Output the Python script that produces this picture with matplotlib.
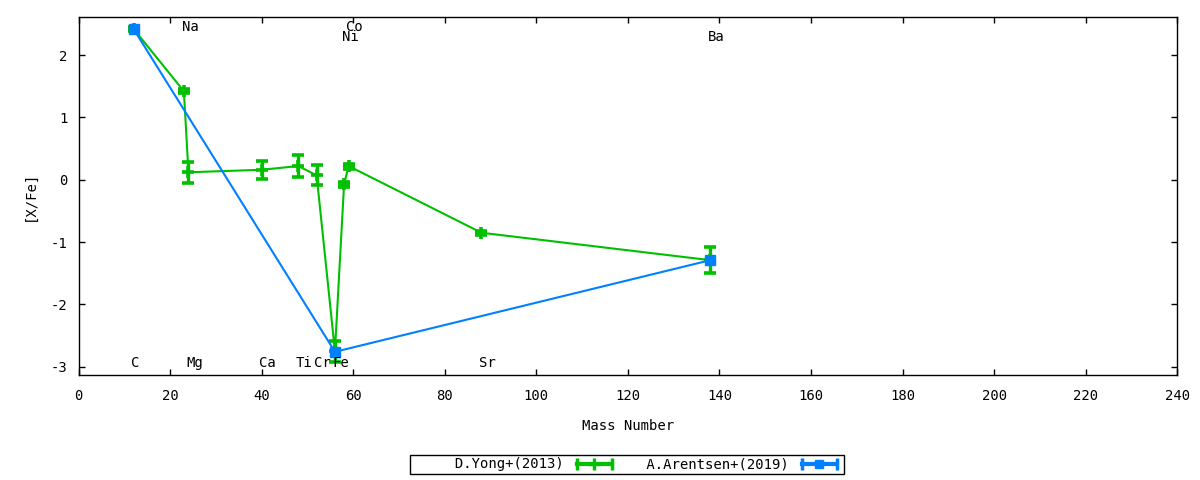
import matplotlib
matplotlib.use("Agg")
import matplotlib.pyplot as plt
from matplotlib.lines import Line2D
from matplotlib.legend_handler import HandlerLine2D, HandlerTuple

plt.rcParams['font.family'] = ['DejaVu Sans Mono']
plt.rcParams['axes.unicode_minus'] = False

# D.Yong+(2013)
yong_elem = ['C', 'Na', 'Mg', 'Ca', 'Ti', 'Cr', 'Fe', 'Ni', 'Co', 'Sr', 'Ba']
yong_mass = [12, 23, 24, 40, 48, 52, 56, 58, 59, 88, 138]
yong_xfe = [2.42, 1.42, 0.12, 0.16, 0.22, 0.07, -2.75, -0.07, 0.22, -0.85, -1.29]
yong_err = [0.03, 0.03, 0.17, 0.14, 0.18, 0.16, 0.17, 0.04, 0.04, 0.03, 0.21]

# A.Arentsen+(2019)
aren_mass = [12, 56, 138]
aren_xfe = [2.42, -2.76, -1.29]

# element labels (name, mass, label height)
lab_elem = ['C', 'Na', 'Mg', 'Ca', 'Ti', 'Cr', 'Fe', 'Co', 'Ni', 'Sr', 'Ba']
lab_mass = [12, 23, 24, 40, 48, 52, 56, 59, 58, 88, 138]
lab_y = [-2.94, 2.45, -2.94, -2.94, -2.94, -2.94, -2.94, 2.45, 2.29, -2.94, 2.29]

series_names = ['D.Yong+(2013)', 'A.Arentsen+(2019)']

green = '#00c000'
blue = '#0080ff'

fig = plt.figure(figsize=(12, 4.8), dpi=100)
ax = fig.add_axes([0.0655, 0.219, 0.9155, 0.7455])

ax.errorbar(yong_mass, yong_xfe, yerr=yong_err, color=green, lw=1.5,
            marker='+', ms=9, mew=2.6, elinewidth=2.4, capsize=4, capthick=2.4, zorder=2)
ax.plot(aren_mass, aren_xfe, color=blue, lw=1.5, marker='s', ms=6.5, zorder=3)

for e, m, y in zip(lab_elem, lab_mass, lab_y):
    ax.text(m - 0.5, y, e, ha='left', va='center', fontsize=10)

ax.set_xlim(0, 240)
ax.set_ylim(-3.13, 2.61)
ax.set_xticks(range(0, 241, 20))
ax.set_yticks([-3, -2, -1, 0, 1, 2])
ax.tick_params(direction='in', top=True, right=True, length=4.5, width=1,
               labelsize=10, pad=8)
ax.tick_params(axis='x', pad=10)
for s in ax.spines.values():
    s.set_linewidth(1)
ax.set_xlabel('Mass Number', fontsize=10, labelpad=12)
ax.set_ylabel('[X/Fe]', fontsize=10, labelpad=10)

cap_g = Line2D([], [], color=green, lw=3, marker='|', ms=9, mew=2.5)
mk_g = Line2D([], [], color=green, ls='none', marker='+', ms=8, mew=2.4)
cap_b = Line2D([], [], color=blue, lw=3, marker='|', ms=9, mew=2.5)
mk_b = Line2D([], [], color=blue, ls='none', marker='s', ms=6)
hm = {cap_g: HandlerLine2D(numpoints=2), mk_g: HandlerLine2D(numpoints=1),
      cap_b: HandlerLine2D(numpoints=2), mk_b: HandlerLine2D(numpoints=1),
      tuple: HandlerTuple(ndivide=1)}
width = max(len(n) for n in series_names)
labels = [' ' + n.rjust(width) for n in series_names]
leg = fig.legend([(cap_g, mk_g), (cap_b, mk_b)], labels,
                 handler_map=hm, loc='center', bbox_to_anchor=(0.5225, 0.0323),
                 ncol=2, markerfirst=False, fontsize=10, handlelength=3.1,
                 columnspacing=1.6, handletextpad=0.65, borderpad=0.2,
                 fancybox=False, edgecolor='black', framealpha=1)
leg.get_frame().set_linewidth(1)

fig.savefig('out.png', dpi=100)
